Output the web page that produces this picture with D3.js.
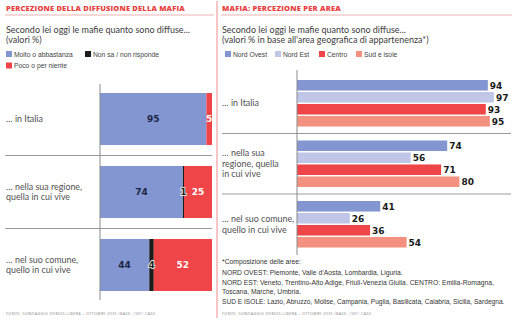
<!DOCTYPE html>
<html>
<head>
<meta charset="utf-8">
<script src="https://cdn.jsdelivr.net/npm/d3@7"></script>
<style>
  body { margin: 0; background: #fff; }
  svg { display: block; }
</style>
</head>
<body>
<div id="chart"></div>
<script>
// categories and values
const leftCats = ["italia", "regione", "comune"];
const leftLabels = [["… in Italia"], ["… nella sua regione,", "quella in cui vive"], ["… nel suo comune,", "quello in cui vive"]];
const molto = [95, 74, 44];
const nonSa = [0, 1, 4];
const poco = [5, 25, 52];

const rightLabels = [["… in Italia"], ["… nella sua", "regione, quella", "in cui vive"], ["… nel suo comune,", "quello in cui vive"]];
const areas = ["Nord Ovest", "Nord Est", "Centro", "Sud e isole"];
const nordOvest = [94, 74, 41];
const nordEst = [97, 56, 26];
const centro = [93, 71, 36];
const sudIsole = [95, 80, 54];

const footnotes = [
  "*Composizione delle aree:",
  "NORD OVEST: Piemonte, Valle d’Aosta, Lombardia, Liguria.",
  "NORD EST: Veneto, Trentino-Alto Adige, Friuli-Venezia Giulia. CENTRO: Emilia-Romagna,",
  "Toscana, Marche, Umbria.",
  "SUD E ISOLE: Lazio, Abruzzo, Molise, Campania, Puglia, Basilicata, Calabria, Sicilia, Sardegna."
];
const fonte = "FONTE: SONDAGGIO DEMOS-LIBERA – OTTOBRE 2025 (BASE: 1001 CASI)";

const BLUE = "#8396d1", LIGHT = "#bfc6e7", RED = "#ef4548", SALMON = "#f3907f", BLACK = "#1b1b1b";
const areaColors = [BLUE, LIGHT, RED, SALMON];
const sans = "'Open Sans', sans-serif";
const body = "Lato, 'Open Sans', sans-serif";
const narrow = "'Liberation Sans', Arial, sans-serif";

const svg = d3.select("#chart").append("svg")
  .attr("width", 516)
  .attr("height", 333);

svg.append("rect").attr("width", 516).attr("height", 333).attr("fill", "#fff");

// scale a text's font size so it spans the given width
function fitSize(sel, target) {
  const w = sel.node().getComputedTextLength();
  const fs = parseFloat(sel.style("font-size"));
  sel.style("font-size", (fs * target / w).toFixed(2) + "px");
  return sel;
}

// condensed text: drawn inside a group squeezed horizontally around its x
function narrowText(x, y, label, size, fill) {
  const g = svg.append("g").attr("transform", `translate(${x},${y})`);
  const t = g.append("text")
    .style("font-family", narrow).style("font-size", size + "px")
    .attr("fill", fill)
    .text(label);
  return { g, t, x, y };
}
function condense(items, factor, maxW) {
  items.forEach(it => {
    const w = it.t.node().getComputedTextLength();
    const f = maxW ? Math.min(factor, maxW / w) : factor;
    it.g.attr("transform", `translate(${it.x},${it.y}) scale(${f},1)`);
  });
}

// panel headers
function header(x0, x1, title, titleW, sub, subW) {
  const t = svg.append("text")
    .attr("x", x0).attr("y", 11)
    .style("font-family", sans).style("font-weight", 800)
    .style("font-size", "7.4px").style("letter-spacing", "0.2px")
    .attr("fill", "#e8413f")
    .text(title);
  fitSize(t, titleW);
  svg.append("line")
    .attr("x1", x0 - 1).attr("x2", x1)
    .attr("y1", 15).attr("y2", 15)
    .attr("stroke", "#f2b3b3").attr("stroke-width", 1.2);
  const subs = sub.map((s, i) => svg.append("text")
    .attr("x", x0).attr("y", 32.8 + i * 10.5)
    .style("font-family", body).style("font-size", "9.6px")
    .attr("fill", "#3c3c3c")
    .text(s));
  fitSize(subs[0], subW);
  subs.forEach(s => s.style("font-size", subs[0].style("font-size")));
}

header(6, 214, "PERCEZIONE DELLA DIFFUSIONE DELLA MAFIA", 179,
  ["Secondo lei oggi le mafie quanto sono diffuse...", "(valori %)"], 184);
header(222, 512, "MAFIA: PERCEZIONE PER AREA", 119,
  ["Secondo lei oggi le mafie quanto sono diffuse...", "(valori % in base all’area geografica di appartenenza*)"], 184);

// divider between panels
svg.append("line")
  .attr("x1", 217).attr("x2", 217).attr("y1", 1).attr("y2", 318)
  .attr("stroke", "#f08c8c").attr("stroke-width", 1);

// legends
const legendTexts = [];
function legendItem(x, y, color, label) {
  svg.append("rect").attr("x", x).attr("y", y - 3).attr("width", 6).attr("height", 6).attr("fill", color);
  legendTexts.push(narrowText(x + 8, y + 2.8, label, 8, "#444"));
}
legendItem(6, 54, BLUE, "Molto o abbastanza");
legendItem(85, 54, BLACK, "Non sa / non risponde");
legendItem(6, 65.5, RED, "Poco o per niente");

const rightLegendX = [225, 275, 319, 356];
areas.forEach((a, i) => legendItem(rightLegendX[i], 54, areaColors[i], a));

condense(legendTexts, 59 / legendTexts[0].t.node().getComputedTextLength());

// ---- left panel: stacked bars
const xL = d3.scaleLinear().domain([0, 100]).range([100, 212]);
const yL = d3.scaleBand().domain(leftCats).range([82.5, 301.5]).paddingInner(0.288).paddingOuter(0.144);

const stackData = leftCats.map((c, i) => ({ cat: c, molto: molto[i], nonSa: nonSa[i], poco: poco[i] }));
const series = d3.stack().keys(["molto", "nonSa", "poco"])(stackData);
const stackColors = { molto: BLUE, nonSa: BLACK, poco: RED };

// row separators
leftCats.slice(1).forEach(c => {
  const y = yL(c) - yL.step() * yL.paddingInner() / 2;
  svg.append("line").attr("x1", 5).attr("x2", 212).attr("y1", y).attr("y2", y)
    .attr("stroke", "#9a9a9a").attr("stroke-width", 1);
});

const gL = svg.append("g");
series.forEach(s => {
  gL.selectAll(null)
    .data(s)
    .join("rect")
    .attr("x", d => xL(d[0]))
    .attr("y", d => yL(d.data.cat))
    .attr("width", d => xL(d[1]) - xL(d[0]))
    .attr("height", yL.bandwidth())
    .attr("fill", stackColors[s.key]);
});

// value labels inside segments
series.forEach(s => {
  gL.selectAll(null)
    .data(s.filter(d => d[1] - d[0] > 0))
    .join("text")
    .attr("x", d => (xL(d[0]) + xL(d[1])) / 2)
    .attr("y", d => yL(d.data.cat) + yL.bandwidth() / 2 + 3.3)
    .attr("text-anchor", "middle")
    .style("font-family", "'DejaVu Sans', sans-serif").style("font-weight", "bold")
    .style("font-size", "9px")
    .style("paint-order", "stroke")
    .attr("stroke", s.key === "nonSa" ? "#fff" : "none")
    .attr("stroke-width", 1.6)
    .attr("fill", s.key === "poco" ? "#fff" : (s.key === "nonSa" ? "#222" : "#1d2545"))
    .text(d => d[1] - d[0]);
});

// left axis line
svg.append("line").attr("x1", 100).attr("x2", 100).attr("y1", 84).attr("y2", 300)
  .attr("stroke", "#8a8a8a").attr("stroke-width", 1);

// category labels, sized so the reference line spans the given width
function catLabels(x, labels, centerOf, lineH, ref, refW) {
  const all = [];
  labels.forEach((lines, i) => {
    const cy = centerOf(i);
    lines.forEach((l, j) => {
      all.push(svg.append("text")
        .attr("x", x)
        .attr("y", cy + 3 + (j - (lines.length - 1) / 2) * lineH)
        .style("font-family", body).style("font-size", "8.4px")
        .attr("fill", "#505050")
        .text(l));
    });
  });
  const r = all.find(t => t.text() === ref);
  fitSize(r, refW);
  all.forEach(t => t.style("font-size", r.style("font-size")));
}
catLabels(6, leftLabels, i => yL(leftCats[i]) + yL.bandwidth() / 2, 10, "… nella sua regione,", 76);

// ---- right panel: grouped bars
const rowKeys = ["italia", "regione", "comune"];
const xR = d3.scaleLinear().domain([0, 100]).range([297, 500]);
const yR = d3.scaleBand().domain(rowKeys).range([73, 254.5]).paddingInner(0.231).paddingOuter(0.1155);
const yInner = d3.scaleBand().domain(areas).range([0, yR.bandwidth()]).paddingInner(0.12);
const areaValues = [nordOvest, nordEst, centro, sudIsole];

rowKeys.slice(1).forEach(k => {
  const y = yR(k) - yR.step() * yR.paddingInner() / 2;
  svg.append("line").attr("x1", 222).attr("x2", 511).attr("y1", y).attr("y2", y)
    .attr("stroke", "#9a9a9a").attr("stroke-width", 1);
});

const groupData = rowKeys.map((k, i) => ({
  key: k,
  values: areas.map((a, j) => ({ area: a, value: areaValues[j][i], color: areaColors[j] }))
}));

const groups = svg.selectAll("g.row")
  .data(groupData)
  .join("g")
  .attr("class", "row")
  .attr("transform", d => `translate(0, ${yR(d.key)})`);

groups.selectAll("rect")
  .data(d => d.values)
  .join("rect")
  .attr("x", xR(0))
  .attr("y", d => yInner(d.area))
  .attr("width", d => xR(d.value) - xR(0))
  .attr("height", yInner.bandwidth())
  .attr("fill", d => d.color);

groups.selectAll("text")
  .data(d => d.values)
  .join("text")
  .attr("x", d => xR(d.value) + 2)
  .attr("y", d => yInner(d.area) + yInner.bandwidth() / 2 + 3.3)
  .style("font-family", "'DejaVu Sans', sans-serif").style("font-weight", "bold")
  .style("font-size", "9px")
  .attr("fill", "#1a1a1a")
  .text(d => d.value);

svg.append("line").attr("x1", 297).attr("x2", 297).attr("y1", 70).attr("y2", 255)
  .attr("stroke", "#8a8a8a").attr("stroke-width", 1);

catLabels(222, rightLabels, i => yR(rowKeys[i]) + yR.bandwidth() / 2, 10.5, "… nel suo comune,", 72);

// footnotes: condensed to the column, longest line squeezed to fit
const notes = footnotes.map((f, i) =>
  narrowText(222, i === 0 ? 263.5 : 275 + (i - 1) * 9.6, f, 8, "#333"));
condense(notes, 272 / notes[2].t.node().getComputedTextLength(), 283);

[6, 222].forEach(x => {
  const t = svg.append("text")
    .attr("x", x).attr("y", 314.5)
    .style("font-family", sans).style("font-size", "3.6px")
    .style("letter-spacing", "0.35px")
    .attr("fill", "#888")
    .text(fonte);
  fitSize(t, 151);
});
</script>
</body>
</html>
